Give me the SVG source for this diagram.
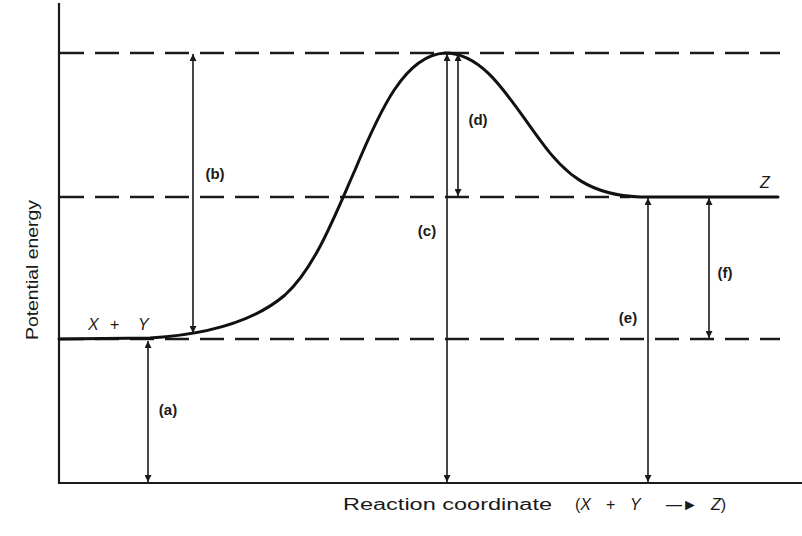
<svg xmlns="http://www.w3.org/2000/svg" width="802" height="536" viewBox="0 0 802 536">
<style>
.axis{stroke:#1a1a1a;stroke-width:2.2;fill:none}
.dash{stroke:#1a1a1a;stroke-width:2.4;stroke-dasharray:24 11;fill:none}
.curve{stroke:#111;stroke-width:3;fill:none;stroke-linecap:round}
.arr{stroke:#1a1a1a;stroke-width:1.6;fill:none;marker-start:url(#ah);marker-end:url(#ah)}
.lbl{font-family:"Liberation Sans",Arial,sans-serif;font-size:15px;fill:#1a1a1a;font-weight:bold}
.txt{font-family:"Liberation Sans",Arial,sans-serif;font-size:16px;fill:#1a1a1a}
.it{font-style:italic}
</style>
<defs>
<marker id="ah" viewBox="0 0 10 10" refX="10" refY="5" markerWidth="7" markerHeight="7" markerUnits="userSpaceOnUse" orient="auto-start-reverse">
<path d="M0,0 L10,5 L0,10 z" fill="#1a1a1a"/>
</marker>
</defs>
<g id="axes">
<line class="axis" x1="59" y1="3" x2="59" y2="484"/>
<line class="axis" x1="58" y1="483" x2="802" y2="483"/>
</g>
<g id="levels">
<line class="dash" x1="60" y1="53" x2="780" y2="53"/>
<line class="dash" x1="60" y1="197" x2="630" y2="197"/>
<line class="dash" x1="60" y1="339" x2="780" y2="339"/>
</g>
<g id="curve">
<path class="curve" d="M59,339 L150,338 C200,335 250,325 285,295 C315,268 335,215 355,170 C380,110 405,55 445,53 C485,53 510,100 540,140 C565,175 590,195 640,197 L778,197"/>
</g>
<g id="connectors">
<line class="arr" x1="148" y1="341" x2="148" y2="482"/>
<line class="arr" x1="193" y1="54" x2="193" y2="333"/>
<line class="arr" x1="447" y1="54" x2="447" y2="482"/>
<line class="arr" x1="458" y1="54" x2="458" y2="196"/>
<line class="arr" x1="648" y1="198" x2="648" y2="482"/>
<line class="arr" x1="709" y1="198" x2="709" y2="338"/>
</g>
<g id="labels">
<text class="lbl" x="168" y="415" text-anchor="middle">(a)</text>
<text class="lbl" x="215" y="179" text-anchor="middle">(b)</text>
<text class="lbl" x="427" y="236" text-anchor="middle">(c)</text>
<text class="lbl" x="478" y="125" text-anchor="middle">(d)</text>
<text class="lbl" x="628" y="323" text-anchor="middle">(e)</text>
<text class="lbl" x="725" y="278" text-anchor="middle">(f)</text>
</g>
<g id="species">
<text class="txt it" x="88" y="330">X</text>
<text class="txt" x="110" y="330">+</text>
<text class="txt it" x="138" y="330">Y</text>
<text class="txt it" x="760" y="188">Z</text>
</g>
<g id="axis-labels">
<text class="txt" x="343" y="510" textLength="209" lengthAdjust="spacingAndGlyphs">Reaction coordinate</text>
<text class="txt" x="575" y="510">(<tspan class="it">X</tspan></text>
<text class="txt" x="606" y="510">+</text>
<text class="txt it" x="630" y="510">Y</text>
<text class="txt" x="666" y="510">—►</text>
<text class="txt" x="711" y="510"><tspan class="it">Z</tspan>)</text>
<text class="txt" transform="translate(38,270) rotate(-90)" text-anchor="middle" textLength="140" lengthAdjust="spacingAndGlyphs">Potential energy</text>
</g>
</svg>
